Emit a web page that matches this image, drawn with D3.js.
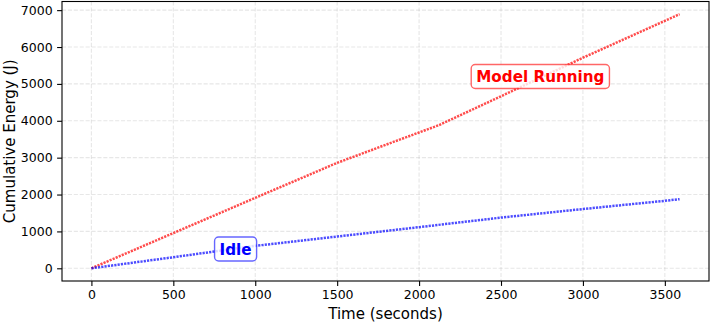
<!DOCTYPE html>
<html>
<head>
<meta charset="utf-8">
<script src="https://cdn.jsdelivr.net/npm/d3@7"></script>
<style>
  body { margin: 0; background: #fff; }
  text { font-family: "DejaVu Sans", sans-serif; }
</style>
</head>
<body>
<div id="chart"></div>
<script>
let runTime = [0, 500, 1000, 1500, 1800, 2120, 2500, 3000, 3300, 3590];
let runEnergy = [0, 955, 1910, 2860, 3355, 3880, 4665, 5710, 6310, 6890];
let idleTime = [0, 500, 750, 1000, 1500, 2000, 2500, 3000, 3500, 3590];
let idleEnergy = [0, 300, 455, 609, 862, 1116, 1375, 1607, 1830, 1875];
let xTicks = [0, 500, 1000, 1500, 2000, 2500, 3000, 3500];
let yTicks = [0, 1000, 2000, 3000, 4000, 5000, 6000, 7000];
let labels = ["Model Running", "Idle"];
let labelAt = [[2740, 5200], [880, 522]];
let colors = ["#ff0000", "#0000ff"];

let W = 718, H = 323;
let margin = {top: 1.5, right: 9, bottom: 42, left: 62};
let width = W - margin.left - margin.right,
    height = H - margin.top - margin.bottom;

let svg = d3.select("#chart").append("svg")
    .attr("width", W)
    .attr("height", H)
  .append("g")
    .attr("transform", "translate(" + margin.left + "," + margin.top + ")");

let pad = (lo, hi) => [lo - (hi - lo) * 0.05, hi + (hi - lo) * 0.05];

let x = d3.scaleLinear()
    .domain(pad(0, d3.max(runTime.concat(idleTime))))
    .range([0, width]);
let y = d3.scaleLinear()
    .domain(pad(0, d3.max(runEnergy.concat(idleEnergy))))
    .range([height, 0]);

// grid
svg.append("g").selectAll("line")
    .data(xTicks)
  .enter().append("line")
    .attr("x1", d => x(d)).attr("x2", d => x(d))
    .attr("y1", 0).attr("y2", height)
    .attr("stroke", "#b0b0b0").attr("stroke-opacity", 0.3)
    .attr("stroke-width", 1.1).attr("stroke-dasharray", "4.1,1.8");
svg.append("g").selectAll("line")
    .data(yTicks)
  .enter().append("line")
    .attr("y1", d => y(d)).attr("y2", d => y(d))
    .attr("x1", 0).attr("x2", width)
    .attr("stroke", "#b0b0b0").attr("stroke-opacity", 0.3)
    .attr("stroke-width", 1.1).attr("stroke-dasharray", "4.1,1.8");

// series
let line = d3.line()
    .x(d => x(d[0]))
    .y(d => y(d[1]));

let series = [
  d3.zip(runTime, runEnergy),
  d3.zip(idleTime, idleEnergy)
];

series.forEach((s, i) => {
  svg.append("path")
      .datum(s)
      .attr("d", line)
      .attr("fill", "none")
      .attr("stroke", colors[i])
      .attr("stroke-opacity", 0.7)
      .attr("stroke-width", 2.5)
      .attr("stroke-dasharray", "2.2,1.1");
});

// axes
let xAxis = d3.axisBottom(x).tickValues(xTicks).tickSize(4.9).tickPadding(4.5).tickFormat(d3.format("d"));
let yAxis = d3.axisLeft(y).tickValues(yTicks).tickSize(4.9).tickPadding(4.5).tickFormat(d3.format("d"));

svg.append("g")
    .attr("transform", "translate(0," + height + ")")
    .call(xAxis);
svg.append("g")
    .call(yAxis);

svg.selectAll(".domain").remove();
svg.selectAll(".tick line").attr("stroke", "#000").attr("stroke-width", 1.1);
svg.selectAll(".tick text")
    .style("font-size", "12.5px")
    .style("font-family", "DejaVu Sans")
    .attr("fill", "#000");

// frame
svg.append("rect")
    .attr("width", width)
    .attr("height", height)
    .attr("fill", "none")
    .attr("stroke", "#000")
    .attr("stroke-width", 1.1);

// axis titles
svg.append("text")
    .attr("x", width / 2)
    .attr("y", height + 38)
    .text("Time (seconds)")
    .style("font-size", "15px")
    .style("text-anchor", "middle");

svg.append("text")
    .attr("transform", "translate(" + (-47) + "," + (height / 2) + ") rotate(-90)")
    .text("Cumulative Energy (J)")
    .style("font-size", "15px")
    .style("text-anchor", "middle");

// annotations
labels.forEach((lab, i) => {
  let g = svg.append("g")
      .attr("transform", "translate(" + x(labelAt[i][0]) + "," + y(labelAt[i][1]) + ")");
  let box = g.append("rect");
  let t = g.append("text")
      .text(lab)
      .attr("y", 0)
      .attr("dy", "0.36em")
      .style("font-size", "15.2px")
      .style("font-weight", "bold")
      .style("text-anchor", "middle")
      .attr("fill", colors[i]);
  let bb = t.node().getBBox();
  let p = 5;
  box.attr("x", bb.x - p)
      .attr("y", -12)
      .attr("width", bb.width + 2 * p)
      .attr("height", 24)
      .attr("rx", 4)
      .attr("fill", "#fff")
      .attr("fill-opacity", 0.8)
      .attr("stroke", colors[i])
      .attr("stroke-opacity", 0.6)
      .attr("stroke-width", 1.4);
});
</script>
</body>
</html>
